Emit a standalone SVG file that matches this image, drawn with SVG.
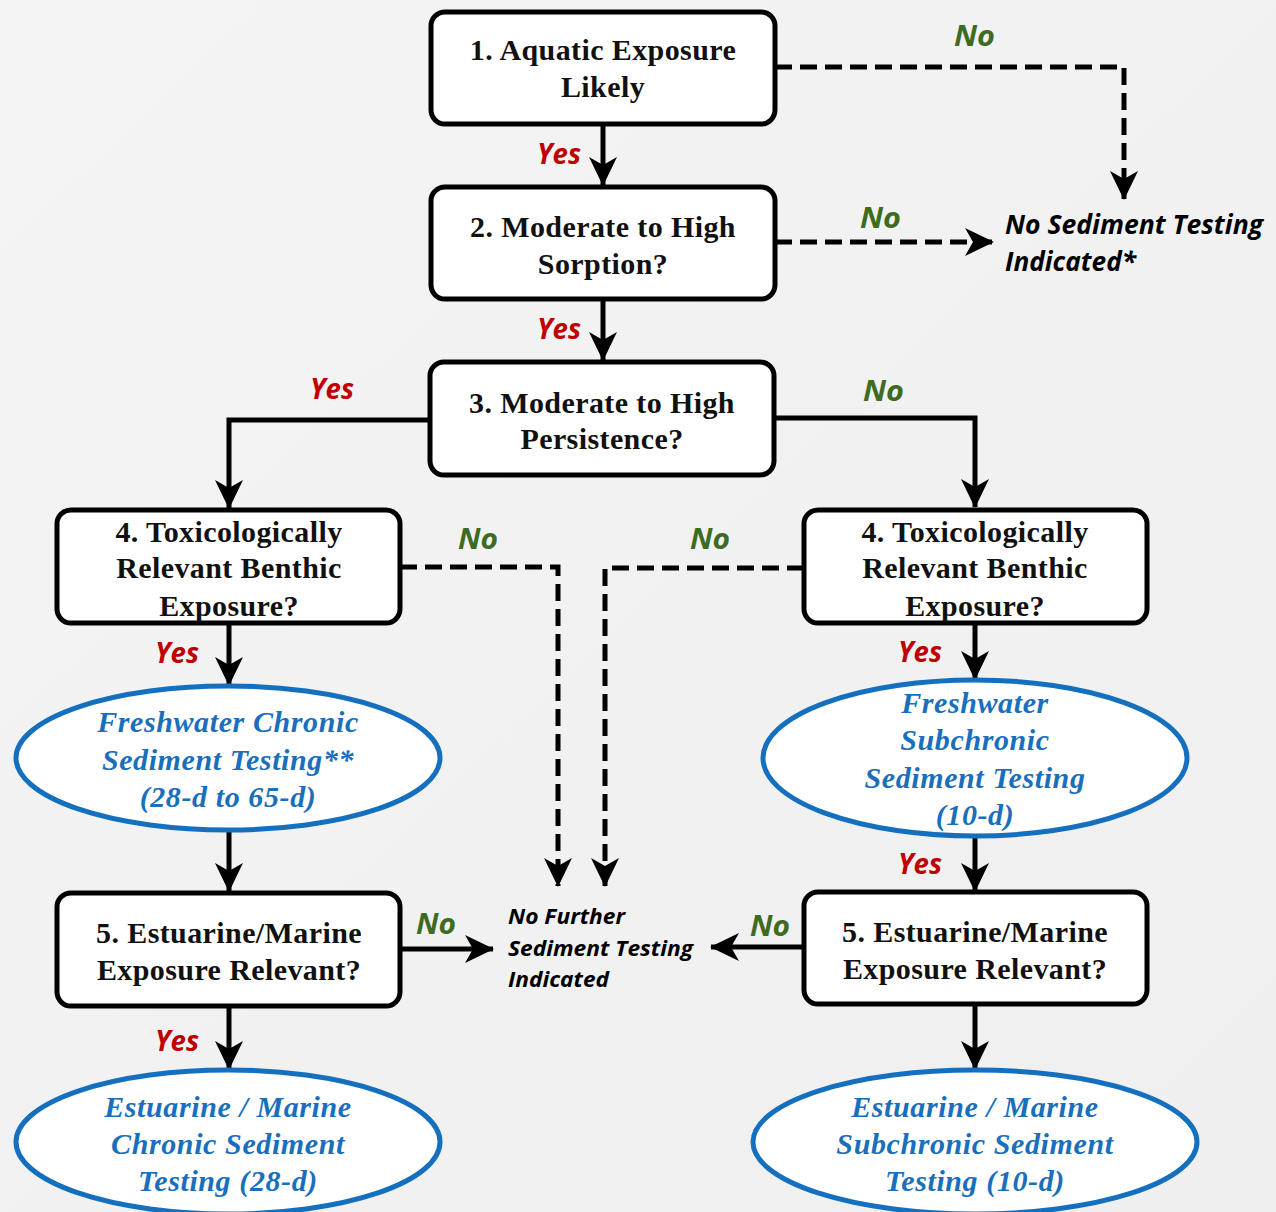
<svg xmlns="http://www.w3.org/2000/svg" width="1276" height="1212" viewBox="0 0 1276 1212">
  <defs>
    <linearGradient id="bg" x1="0" y1="0" x2="1" y2="1">
      <stop offset="0" stop-color="#f4f4f4"/>
      <stop offset="1" stop-color="#efefef"/>
    </linearGradient>
    <marker id="arrow" markerUnits="userSpaceOnUse" viewBox="0 0 30 30" markerWidth="30" markerHeight="30" refX="28" refY="15" orient="auto">
      <path d="M0,1 L29,15 L0,29 L8,15 Z" fill="#000"/>
    </marker>
    <style>
      .box { fill: #fff; stroke: #000; stroke-width: 5; }
      .oval { fill: #fff; stroke: #1470be; stroke-width: 5; }
      .btxt { font-family: "Liberation Serif", "Times New Roman", serif; font-weight: bold; font-size: 30px; letter-spacing: 0.4px; fill: #111; text-anchor: middle; }
      .otxt { font-family: "Liberation Serif", "Times New Roman", serif; font-weight: bold; font-style: italic; font-size: 30px; letter-spacing: 0.6px; fill: #1a6fbd; text-anchor: middle; }
      .yes { font-family: "Open Sans", "Noto Sans", sans-serif; font-weight: bold; font-style: italic; font-size: 28px; fill: #c00000; }
      .no { font-family: "Open Sans", "Noto Sans", sans-serif; font-weight: bold; font-style: italic; font-size: 28px; fill: #3d6b21; }
      .note { font-family: "Open Sans", "Noto Sans", sans-serif; font-weight: bold; font-style: italic; fill: #000; }
      .solid { fill: none; stroke: #000; stroke-width: 5; marker-end: url(#arrow); }
      .dash { fill: none; stroke: #000; stroke-width: 5; stroke-dasharray: 17 8; marker-end: url(#arrow); }
    </style>
  </defs>

  <rect width="1276" height="1212" fill="url(#bg)"/>

  <!-- connectors -->
  <g id="connectors">
    <path class="solid" d="M603,124 V185"/>
    <path class="dash" d="M775,67 H1124 V199"/>
    <path class="solid" d="M603,299 V360"/>
    <path class="dash" d="M775,242 H993"/>
    <path class="solid" d="M430,420 H229 V508"/>
    <path class="solid" d="M774,418 H975 V507"/>
    <path class="dash" d="M400,567 H558 V886"/>
    <path class="dash" d="M804,568 H605 V886"/>
    <path class="solid" d="M229,623 V685"/>
    <path class="solid" d="M975,623 V679"/>
    <path class="solid" d="M229,830 V891"/>
    <path class="solid" d="M975,836 V891"/>
    <path class="solid" d="M400,949 H493"/>
    <path class="solid" d="M804,947 H711"/>
    <path class="solid" d="M229,1006 V1069"/>
    <path class="solid" d="M975,1004 V1069"/>

    <text class="yes" x="537" y="164" textLength="44" lengthAdjust="spacingAndGlyphs">Yes</text>
    <text class="yes" x="537" y="339" textLength="44" lengthAdjust="spacingAndGlyphs">Yes</text>
    <text class="yes" x="310" y="399" textLength="44" lengthAdjust="spacingAndGlyphs">Yes</text>
    <text class="yes" x="155" y="663" textLength="44" lengthAdjust="spacingAndGlyphs">Yes</text>
    <text class="yes" x="898" y="662" textLength="44" lengthAdjust="spacingAndGlyphs">Yes</text>
    <text class="yes" x="898" y="874" textLength="44" lengthAdjust="spacingAndGlyphs">Yes</text>
    <text class="yes" x="155" y="1051" textLength="44" lengthAdjust="spacingAndGlyphs">Yes</text>

    <text class="no" x="954" y="46" textLength="41" lengthAdjust="spacingAndGlyphs">No</text>
    <text class="no" x="860" y="228" textLength="41" lengthAdjust="spacingAndGlyphs">No</text>
    <text class="no" x="863" y="401" textLength="41" lengthAdjust="spacingAndGlyphs">No</text>
    <text class="no" x="458" y="549" textLength="40" lengthAdjust="spacingAndGlyphs">No</text>
    <text class="no" x="690" y="549" textLength="40" lengthAdjust="spacingAndGlyphs">No</text>
    <text class="no" x="416" y="934" textLength="40" lengthAdjust="spacingAndGlyphs">No</text>
    <text class="no" x="750" y="936" textLength="40" lengthAdjust="spacingAndGlyphs">No</text>
  </g>

  <!-- terminal notes -->
  <g id="no-sediment-testing">
    <text class="note" font-size="26" x="1005" y="234" textLength="258" lengthAdjust="spacingAndGlyphs">No Sediment Testing</text>
    <text class="note" font-size="26" x="1005" y="271" textLength="131" lengthAdjust="spacingAndGlyphs">Indicated*</text>
  </g>
  <g id="no-further-testing">
    <text class="note" font-size="22" x="508" y="924" textLength="117" lengthAdjust="spacingAndGlyphs">No Further</text>
    <text class="note" font-size="22" x="508" y="956" textLength="185" lengthAdjust="spacingAndGlyphs">Sediment Testing</text>
    <text class="note" font-size="22" x="508" y="987" textLength="101" lengthAdjust="spacingAndGlyphs">Indicated</text>
  </g>

  <!-- decision boxes -->
  <g id="q1-aquatic-exposure">
    <rect class="box" x="431" y="12" width="344" height="112" rx="14"/>
    <text class="btxt" x="603" y="60">1. Aquatic Exposure</text>
    <text class="btxt" x="603" y="97">Likely</text>
  </g>
  <g id="q2-sorption">
    <rect class="box" x="431" y="187" width="344" height="112" rx="14"/>
    <text class="btxt" x="603" y="237">2. Moderate to High</text>
    <text class="btxt" x="603" y="274">Sorption?</text>
  </g>
  <g id="q3-persistence">
    <rect class="box" x="430" y="362" width="344" height="113" rx="14"/>
    <text class="btxt" x="602" y="413">3. Moderate to High</text>
    <text class="btxt" x="602" y="449">Persistence?</text>
  </g>
  <g id="q4-benthic-left">
    <rect class="box" x="57" y="510" width="343" height="113" rx="14"/>
    <text class="btxt" x="229" y="542">4. Toxicologically</text>
    <text class="btxt" x="229" y="578">Relevant Benthic</text>
    <text class="btxt" x="229" y="616">Exposure?</text>
  </g>
  <g id="q4-benthic-right">
    <rect class="box" x="804" y="510" width="343" height="113" rx="14"/>
    <text class="btxt" x="975" y="542">4. Toxicologically</text>
    <text class="btxt" x="975" y="578">Relevant Benthic</text>
    <text class="btxt" x="975" y="616">Exposure?</text>
  </g>
  <g id="q5-marine-left">
    <rect class="box" x="57" y="893" width="343" height="113" rx="14"/>
    <text class="btxt" x="229" y="943">5. Estuarine/Marine</text>
    <text class="btxt" x="229" y="980">Exposure Relevant?</text>
  </g>
  <g id="q5-marine-right">
    <rect class="box" x="804" y="892" width="343" height="112" rx="14"/>
    <text class="btxt" x="975" y="942">5. Estuarine/Marine</text>
    <text class="btxt" x="975" y="979">Exposure Relevant?</text>
  </g>

  <!-- test outcomes -->
  <g id="freshwater-chronic">
    <ellipse class="oval" cx="228" cy="758" rx="212" ry="72"/>
    <text class="otxt" x="228" y="732">Freshwater Chronic</text>
    <text class="otxt" x="228" y="770">Sediment Testing**</text>
    <text class="otxt" x="228" y="807">(28-d to 65-d)</text>
  </g>
  <g id="freshwater-subchronic">
    <ellipse class="oval" cx="975" cy="758" rx="212" ry="78"/>
    <text class="otxt" x="975" y="713">Freshwater</text>
    <text class="otxt" x="975" y="750">Subchronic</text>
    <text class="otxt" x="975" y="788">Sediment Testing</text>
    <text class="otxt" x="975" y="825">(10-d)</text>
  </g>
  <g id="marine-chronic">
    <ellipse class="oval" cx="228" cy="1142" rx="212" ry="72"/>
    <text class="otxt" x="228" y="1117">Estuarine / Marine</text>
    <text class="otxt" x="228" y="1154">Chronic Sediment</text>
    <text class="otxt" x="228" y="1191">Testing (28-d)</text>
  </g>
  <g id="marine-subchronic">
    <ellipse class="oval" cx="975" cy="1142" rx="222" ry="72"/>
    <text class="otxt" x="975" y="1117">Estuarine / Marine</text>
    <text class="otxt" x="975" y="1154">Subchronic Sediment</text>
    <text class="otxt" x="975" y="1191">Testing (10-d)</text>
  </g>
</svg>
